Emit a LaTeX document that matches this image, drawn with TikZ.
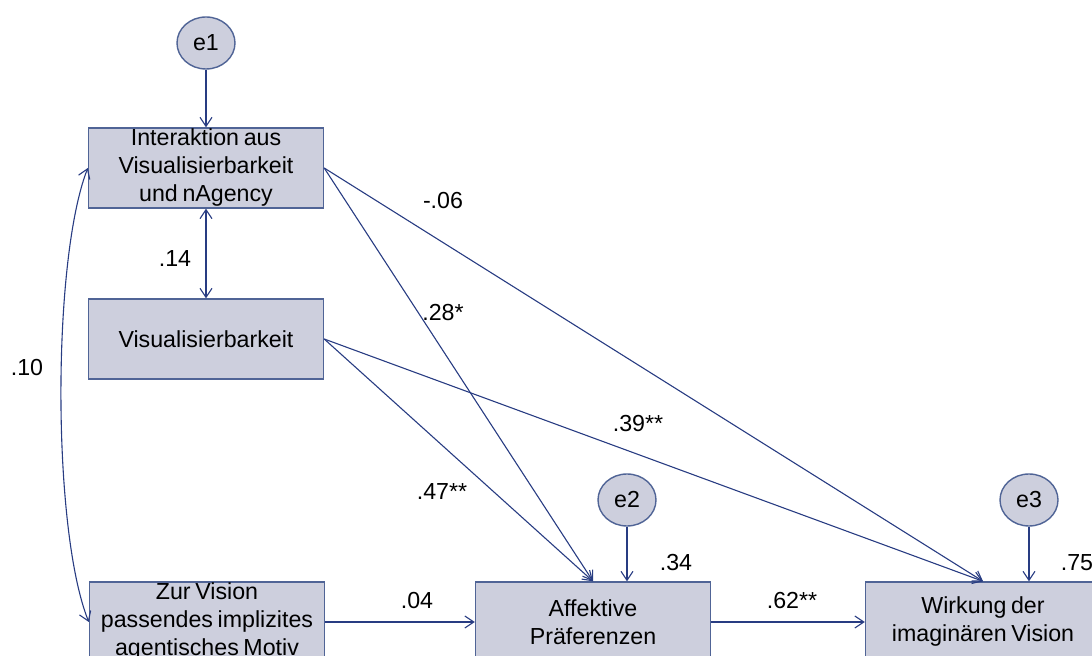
\documentclass[tikz,border=0pt]{standalone}
\usepackage{fontspec}
\setmainfont{Liberation Sans}
\usetikzlibrary{shapes.geometric,arrows.meta}
\definecolor{boxfill}{RGB}{205,207,221}
\definecolor{boxline}{RGB}{80,100,150}
\definecolor{arrowcol}{RGB}{40,60,130}
\newcommand{\diafont}{\fontsize{11.6}{14}\selectfont\spaceskip=0.2em plus 0.1em minus 0.05em\relax}
\begin{document}
\begin{tikzpicture}[x=0.5pt,y=-0.5pt,
  >={Straight Barb[length=4.5pt,width=6pt]},
  var/.style={draw=boxline, fill=boxfill, line width=0.7pt, minimum width=117.5pt, minimum height=40pt,
    align=center, inner sep=0pt, font=\diafont},
  err/.style={ellipse, draw=boxline, fill=boxfill, line width=0.7pt, minimum width=29pt, minimum height=26pt,
    inner sep=0pt, font=\diafont},
  conn/.style={draw=arrowcol, line width=0.55pt, ->},
  lbl/.style={inner sep=0pt, font=\diafont}]
\useasboundingbox (0,0) rectangle (1092,656);

\node[var] (iax) at (206,168) {Interaktion aus\\Visualisierbarkeit\\und nAgency};
\node[var] (vis) at (206,339) {Visualisierbarkeit};
\node[var] (mot) at (207,622) {Zur Vision\\passendes implizites\\agentisches Motiv};
\node[var] (aff) at (593,622) {Affektive\\Präferenzen};
\node[var] (wir) at (983,622) {Wirkung der\\imaginären Vision};

\node[err] (e1) at (206,43) {e1};
\node[err] (e2) at (627,500) {e2};
\node[err] (e3) at (1029,500) {e3};

\draw[conn] (e1) -- (iax);
\draw[conn] (e2) -- (e2 |- aff.north);
\draw[conn] (e3) -- (e3 |- wir.north);
\draw[conn,<->] (iax) -- (vis);
\draw[conn,<->] (iax.west) .. controls (52,260) and (52,530) .. (mot.west);
\draw[conn] (iax.east) -- (aff.north);
\draw[conn] (iax.east) -- (wir.north);
\draw[conn] (vis.east) -- (aff.north);
\draw[conn] (vis.east) -- (wir.north);
\draw[conn] (mot) -- (aff);
\draw[conn] (aff) -- (wir);

\node[lbl] (l1) at (443,201) {-.06};
\node[lbl] (l2) at (443,313) {.28*};
\node[lbl] (l3) at (175,259) {.14};
\node[lbl] (l4) at (27,368) {.10};
\node[lbl] (l5) at (638,424) {.39**};
\node[lbl] (l6) at (442,492) {.47**};
\node[lbl] (l7) at (417,601) {.04};
\node[lbl] (l8) at (792,601) {.62**};
\node[lbl] (l9) at (676,563) {.34};
\node[lbl] (l10) at (1077,563) {.75};
\end{tikzpicture}
\end{document}
